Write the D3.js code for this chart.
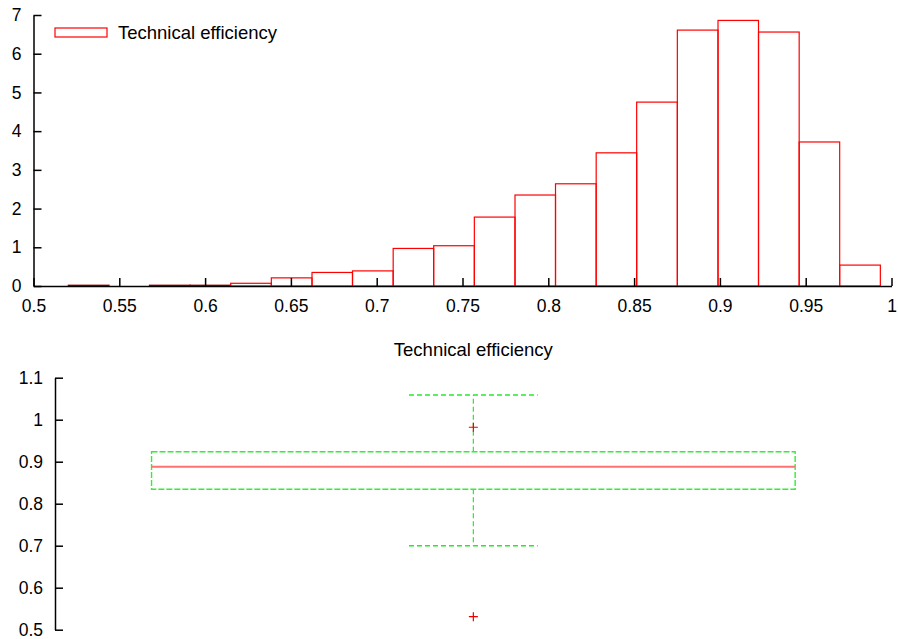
<!DOCTYPE html>
<html>
<head>
<meta charset="utf-8">
<script src="https://cdn.jsdelivr.net/npm/d3@7"></script>
<style>
  body { margin: 0; background: #fff; }
  svg { font-family: "Liberation Sans", Arial, sans-serif; }
</style>
</head>
<body>
<div id="chart"></div>
<script>
// histogram (density) of technical efficiency
const binEdges = [0.5203, 0.5440, 0.5676, 0.5913, 0.6149, 0.6386, 0.6623, 0.6859, 0.7096, 0.7332,
                  0.7569, 0.7806, 0.8042, 0.8279, 0.8515, 0.8752, 0.8989, 0.9225, 0.9462, 0.9698, 0.9935];
const density = [0.02, 0, 0.02, 0.02, 0.07, 0.21, 0.35, 0.39, 0.97, 1.04,
                 1.78, 2.35, 2.64, 3.44, 4.75, 6.61, 6.86, 6.56, 3.72, 0.54];
const xTicks = [0.5, 0.55, 0.6, 0.65, 0.7, 0.75, 0.8, 0.85, 0.9, 0.95, 1];
const yTicks = [0, 1, 2, 3, 4, 5, 6, 7];
const seriesName = "Technical efficiency";

// boxplot
const boxCategory = ["Technical efficiency"];
const boxQ1 = 0.8343, boxMedian = 0.888, boxQ3 = 0.9238;
const whiskerLow = 0.700, whiskerHigh = 1.0588;
const outliers = [0.982, 0.531];
const boxTicks = [0.5, 0.6, 0.7, 0.8, 0.9, 1.0, 1.1];

const width = 898, height = 639;
const svg = d3.select("#chart").append("svg")
  .attr("width", width).attr("height", height);

const fmt = d3.format("");

function styleAxis(g) {
  g.select(".domain").attr("stroke", "#000").attr("stroke-width", 1.5);
  g.selectAll(".tick line").attr("stroke", "#000").attr("stroke-width", 1.5);
  g.selectAll(".tick text").attr("font-size", "17.5px").attr("fill", "#000")
    .attr("font-family", "'Liberation Sans', Arial, sans-serif");
}

// ---------- top: histogram ----------
const x = d3.scaleLinear().domain([0.5, 1]).range([33.5, 891.5]);
const y = d3.scaleLinear().domain([0, 7]).range([286, 15]);

svg.append("g")
  .selectAll("rect")
  .data(density)
  .join("rect")
  .attr("x", (d, i) => x(binEdges[i]))
  .attr("y", d => y(d))
  .attr("width", (d, i) => x(binEdges[i + 1]) - x(binEdges[i]))
  .attr("height", d => y(0) - y(d))
  .attr("fill", "none")
  .attr("stroke", d => d < 0.05 ? "#8b0000" : "#ff0000")
  .attr("stroke-width", 1.2);

svg.append("g")
  .attr("transform", `translate(0,${y(0)})`)
  .call(d3.axisBottom(x).tickValues(xTicks).tickFormat(fmt).tickSizeInner(-8).tickSizeOuter(0).tickPadding(14))
  .call(styleAxis);

svg.append("g")
  .attr("transform", `translate(${x(0.5)},0)`)
  .call(d3.axisLeft(y).tickValues(yTicks).tickFormat(fmt).tickSizeInner(-8).tickSizeOuter(0).tickPadding(12))
  .call(styleAxis);

// legend
const legend = svg.append("g").attr("transform", "translate(55,28)");
legend.append("rect").attr("width", 52).attr("height", 9)
  .attr("fill", "none").attr("stroke", "#ff0000").attr("stroke-width", 1.2);
legend.append("text").attr("x", 63).attr("y", 5).attr("dy", "0.35em")
  .attr("font-size", "18.5px").text(seriesName);

// ---------- bottom: boxplot ----------
const bx = d3.scaleBand().domain(boxCategory).range([55, 891.7]).paddingOuter(0.15);
const by = d3.scaleLinear().domain([0.5, 1.1]).range([629.7, 377.7]);

svg.append("g")
  .attr("transform", `translate(55,0)`)
  .call(d3.axisLeft(by).tickValues(boxTicks).tickFormat(fmt).tickSizeInner(-8).tickSizeOuter(0).tickPadding(12))
  .call(styleAxis);

svg.append("text")
  .attr("x", bx(boxCategory[0]) + bx.bandwidth() / 2)
  .attr("y", 350).attr("dy", "0.35em")
  .attr("text-anchor", "middle")
  .attr("font-size", "18.5px")
  .text(boxCategory[0]);

const bg = svg.append("g");
const x0 = bx(boxCategory[0]), bw = bx.bandwidth(), cx = x0 + bw / 2;
const capW = bw * 0.2;
const green = "#22ee22";

// whiskers
bg.append("line").attr("x1", cx).attr("x2", cx).attr("y1", by(boxQ3)).attr("y2", by(whiskerHigh))
  .attr("stroke", green).attr("stroke-width", 1.2).attr("stroke-dasharray", "5,3");
bg.append("line").attr("x1", cx).attr("x2", cx).attr("y1", by(boxQ1)).attr("y2", by(whiskerLow))
  .attr("stroke", green).attr("stroke-width", 1.2).attr("stroke-dasharray", "5,3");
[whiskerHigh, whiskerLow].forEach(v => {
  bg.append("line").attr("x1", cx - capW / 2).attr("x2", cx + capW / 2)
    .attr("y1", by(v)).attr("y2", by(v))
    .attr("stroke", green).attr("stroke-dasharray", "5,3").attr("stroke-width", 1.4);
});

// box
bg.append("rect").attr("x", x0).attr("width", bw)
  .attr("y", by(boxQ3)).attr("height", by(boxQ1) - by(boxQ3))
  .attr("fill", "none").attr("stroke", "#33ee33").attr("stroke-width", 1.4)
  .attr("stroke-dasharray", "6,2");

// median
bg.append("line").attr("x1", x0).attr("x2", x0 + bw)
  .attr("y1", by(boxMedian)).attr("y2", by(boxMedian))
  .attr("stroke", "#ff7070").attr("stroke-width", 2);

// outliers
bg.selectAll("path.out")
  .data(outliers)
  .join("path")
  .attr("class", "out")
  .attr("d", d => `M${cx - 4.5},${by(d)}h9M${cx},${by(d) - 4.5}v9`)
  .attr("stroke", "#ee0000").attr("stroke-width", 1.2);
</script>
</body>
</html>
